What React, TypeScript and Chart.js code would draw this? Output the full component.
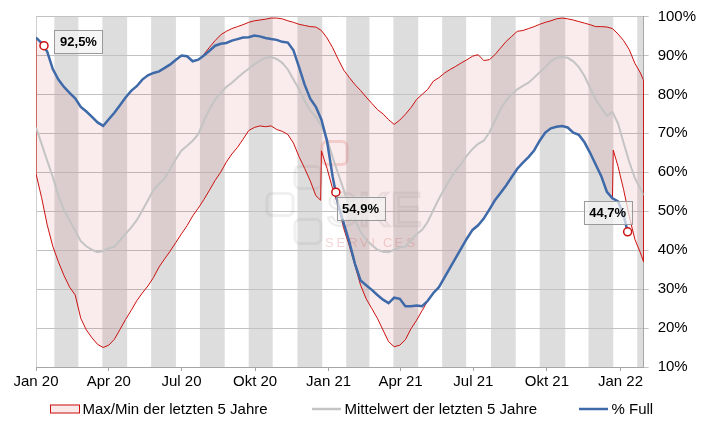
import React, { useEffect, useRef } from "react";
import { Chart, registerables } from "chart.js";

Chart.register(...registerables);

if (typeof document !== "undefined") {
  document.body.style.margin = "0";
  document.body.style.overflow = "hidden";
}

const W = 709;
const H = 421;
const FONT = "'Liberation Sans', Arial, sans-serif";

// x values are day offsets from 1 Jan 2020
const END_DAY = 760;
const weekDays = Array.from({ length: 109 }, (_, i) => i * 7);
const gridDays = [...weekDays, END_DAY];

const tickDays = [0, 91, 182, 274, 366, 456, 547, 639, 731];
const tickLabels = ["Jan 20", "Apr 20", "Jul 20", "Okt 20", "Jan 21", "Apr 21", "Jul 21", "Okt 21", "Jan 22"];

const stripeStarts = [23, 83, 144, 205, 266, 327, 388, 447, 508, 569, 630, 691, 752];
const stripeEnds = [53, 114, 175, 236, 296, 358, 417, 478, 538, 600, 662, 722, 783];

// % Full (weekly, k0..k105)
const fullValues = [
  94.6, 93.2, 91.0, 86.5, 83.8, 81.9, 80.4, 79.0, 76.8, 75.6,
  74.2, 72.8, 71.9, 73.6, 75.3, 77.2, 79.2, 80.9, 82.1, 83.8,
  84.9, 85.5, 85.9, 86.8, 87.7, 88.9, 90.0, 89.8, 88.5, 88.9,
  90.0, 91.2, 92.5, 93.0, 93.2, 93.8, 94.2, 94.6, 94.7, 95.1,
  94.9, 94.5, 94.2, 94.0, 93.5, 93.3, 91.3, 87.0, 82.5, 78.9,
  76.8, 73.5, 68.0, 58.9, 51.5, 46.9, 42.0, 36.5, 32.2, 31.0,
  29.8, 28.5, 27.3, 26.4, 27.8, 27.5, 25.6, 25.6, 25.8, 25.6,
  27.0, 29.0, 30.5, 33.0, 35.5, 38.0, 40.5, 43.0, 45.2, 46.4,
  48.1, 50.4, 52.8, 54.7, 56.6, 58.8, 60.9, 62.5, 63.9, 65.6,
  68.1, 70.2, 71.3, 71.7, 71.9, 71.5, 70.2, 69.6, 67.7, 65.0,
  62.0, 59.0, 55.0, 53.3, 52.5, 49.0,
];

// 5-year max (weekly + end)
const maxValues = [
  94.6, 93.2, 91.0, 86.5, 83.8, 81.9, 80.4, 79.0, 76.8, 75.6,
  74.2, 72.8, 71.9, 73.6, 75.3, 77.2, 79.2, 80.9, 82.1, 83.8,
  84.9, 85.5, 85.9, 86.8, 87.7, 88.9, 90.0, 89.8, 88.5, 88.9,
  90.3, 92.1, 93.8, 95.3, 96.2, 96.9, 97.4, 97.9, 98.5, 98.9,
  99.1, 99.3, 99.6, 99.6, 99.4, 98.9, 98.5, 98.0, 97.7, 97.4,
  97.3, 96.4, 94.5, 92.0, 89.0, 86.2, 84.3, 82.5, 81.0, 79.3,
  77.7, 76.1, 75.0, 73.5, 72.3, 73.4, 74.9, 76.6, 78.7, 80.0,
  81.3, 83.4, 84.3, 85.5, 86.4, 87.2, 88.1, 88.9, 89.8, 90.2,
  88.7, 88.9, 90.2, 91.9, 93.6, 94.9, 96.2, 96.4, 96.9, 97.4,
  98.0, 98.5, 98.9, 99.4, 99.6, 99.4, 99.1, 98.7, 98.3, 97.9,
  97.4, 97.4, 97.3, 96.9, 95.5, 93.8, 91.5, 88.0, 85.5,
  83.6,
];

// 5-year min (weekly + end)
const minValues = [
  59.6, 53.5, 46.5, 41.0, 37.0, 33.5, 30.5, 28.5, 22.5, 19.5,
  17.5, 15.8, 15.0, 15.6, 17.1, 19.6, 22.2, 24.5, 27.0, 29.0,
  30.8, 33.0, 35.7, 37.8, 39.8, 42.0, 44.2, 46.3, 48.8, 50.8,
  53.0, 55.4, 57.9, 60.0, 62.6, 64.7, 66.4, 68.5, 70.7, 71.5,
  71.9, 71.7, 71.9, 71.0, 70.5, 69.7, 67.5, 64.0, 61.0, 57.8,
  54.0, 65.5, 61.0, 55.8, 51.5, 45.5, 41.0, 36.0, 31.0, 27.5,
  25.0, 22.5, 19.5, 16.5, 15.2, 15.6, 17.0, 19.8, 22.0, 24.5,
  27.0, 29.0, 30.5, 33.0, 35.5, 38.0, 40.5, 43.0, 45.2, 46.4,
  48.1, 50.4, 52.8, 54.7, 56.6, 58.8, 60.9, 62.5, 63.9, 65.6,
  68.1, 70.2, 71.3, 71.7, 71.9, 71.5, 70.2, 69.6, 67.7, 65.0,
  62.0, 59.0, 55.0, 53.3, 61.5, 55.5, 48.7, 42.8, 39.3,
  37.0,
];
// extra min points at the year-change jumps
const minJumpDays = [356, 722];
const minJumpValues = [52.8, 65.7];

// 5-year mean (weekly + end)
const meanValues = [
  71.5, 67.3, 63.0, 58.8, 54.0, 50.2, 47.7, 45.0, 42.3, 41.0,
  40.1, 39.5, 39.8, 40.5, 40.9, 42.5, 44.2, 45.8, 47.7, 50.2,
  52.8, 55.5, 57.0, 58.5, 60.9, 63.4, 65.6, 66.8, 68.1, 69.8,
  73.2, 76.2, 78.7, 80.4, 81.9, 83.0, 84.3, 85.5, 86.6, 87.7,
  88.7, 89.4, 89.6, 89.1, 88.1, 86.4, 83.8, 81.3, 78.3, 75.8,
  74.2, 71.9, 68.5, 63.9, 59.6, 55.4, 51.1, 47.7, 44.7, 42.6,
  41.3, 40.1, 39.6, 39.5, 40.1, 40.7, 40.9, 42.6, 44.1, 45.2,
  47.3, 50.3, 53.2, 55.8, 58.3, 60.5, 62.2, 64.3, 66.0, 67.3,
  68.1, 70.2, 73.2, 76.2, 78.4, 80.0, 81.3, 82.2, 83.0, 84.3,
  85.7, 87.0, 88.5, 89.4, 89.6, 89.4, 88.5, 87.0, 84.7, 81.7,
  78.7, 76.6, 74.5, 75.5, 72.5, 67.5, 62.7, 58.5, 55.8,
  54.1,
];

const markerDays = [10, 375, 740];
const markerValues = [92.5, 54.9, 44.7];

const legendLabels = ["Max/Min der letzten 5 Jahre", "Mittelwert der letzten 5 Jahre", "% Full"];

// styles
const BLUE = "#3e6aa9";
const GRAY_LINE = "#c4c4c4";
const RED = "#cc1111";
const BAND = "rgba(205, 40, 40, 0.09)";
const STRIPE = "#dddddd";
const GRID = "#c2c2c2";
const AXIS = "#a6a6a6";
const labelOffsets = [
  [34.5, -4],
  [24.7, 16],
  [-20, -19],
];

const pts = (days: number[], vals: number[]) => vals.map((v, i) => ({ x: days[i], y: v }));

const fullData = [...pts(weekDays, fullValues), { x: markerDays[2], y: markerValues[2] }];
const meanData = pts(gridDays, meanValues);
const minData = [...pts(gridDays, minValues), ...pts(minJumpDays, minJumpValues)].sort((a, b) => a.x - b.x);
const maxData = [
  { x: 0, y: minValues[0] },
  ...pts(gridDays, maxValues),
  { x: END_DAY, y: minValues[minValues.length - 1] },
];
const markerData = pts(markerDays, markerValues);

const fmt = (v: number) => v.toFixed(1).replace(".", ",") + "%";

const stripesPlugin = {
  id: "stripes",
  beforeDraw(chart: any) {
    const { ctx, chartArea: a, scales } = chart;
    const x = scales.x;
    ctx.save();
    ctx.fillStyle = STRIPE;
    stripeStarts.forEach((s, i) => {
      const x0 = Math.max(a.left, x.getPixelForValue(s));
      const x1 = Math.min(a.right, x.getPixelForValue(stripeEnds[i]));
      if (x1 > x0) ctx.fillRect(x0, a.top, x1 - x0, a.bottom - a.top);
    });
    ctx.restore();
  },
};

function roundRect(ctx: CanvasRenderingContext2D, x: number, y: number, w: number, h: number, r: number) {
  ctx.beginPath();
  ctx.moveTo(x + r, y);
  ctx.arcTo(x + w, y, x + w, y + h, r);
  ctx.arcTo(x + w, y + h, x, y + h, r);
  ctx.arcTo(x, y + h, x, y, r);
  ctx.arcTo(x, y, x + w, y, r);
  ctx.closePath();
}

const framePlugin = {
  id: "frame",
  beforeDatasetsDraw(chart: any) {
    const { ctx, chartArea: a } = chart;
    ctx.save();
    // left frame line
    ctx.strokeStyle = "#d0d0d0";
    ctx.lineWidth = 1;
    ctx.beginPath();
    ctx.moveTo(a.left + 0.5, a.top);
    ctx.lineTo(a.left + 0.5, a.bottom);
    ctx.stroke();
    // faint watermark
    const cx = a.left + 231;
    const cy = a.top + 125;
    ctx.lineWidth = 3;
    ctx.strokeStyle = "rgba(150,150,150,0.14)";
    roundRect(ctx, cx + 28, cy + 25, 26, 22, 5);
    ctx.stroke();
    roundRect(ctx, cx, cy + 52, 26, 22, 5);
    ctx.stroke();
    roundRect(ctx, cx + 28, cy + 78, 26, 24, 5);
    ctx.stroke();
    ctx.strokeStyle = "rgba(215,80,80,0.2)";
    roundRect(ctx, cx + 55, cy, 25, 23, 5);
    ctx.stroke();
    ctx.strokeStyle = "rgba(150,150,150,0.16)";
    ctx.lineWidth = 2.5;
    ctx.font = `48px ${FONT}`;
    ctx.textBaseline = "alphabetic";
    ctx.strokeText("SKE", cx + 59, cy + 84);
    ctx.fillStyle = "rgba(210,90,90,0.25)";
    ctx.font = `13px ${FONT}`;
    "SERVICES".split("").forEach((c, i) => ctx.fillText(c, cx + 58 + i * 11.6, cy + 105));
    ctx.restore();
  },
};

const labelPlugin = {
  id: "valueLabels",
  afterDatasetsDraw(chart: any) {
    const { ctx, scales } = chart;
    ctx.save();
    ctx.font = `bold 13px ${FONT}`;
    ctx.textAlign = "center";
    ctx.textBaseline = "middle";
    markerDays.forEach((d, i) => {
      const px = scales.x.getPixelForValue(d);
      const py = scales.y.getPixelForValue(markerValues[i]);
      const cx = px + labelOffsets[i][0];
      const cy = py + labelOffsets[i][1];
      const bw = 48;
      const bh = 23;
      ctx.fillStyle = "rgba(242,242,242,0.72)";
      ctx.fillRect(cx - bw / 2, cy - bh / 2, bw, bh);
      ctx.strokeStyle = "#9a9a9a";
      ctx.lineWidth = 1;
      ctx.strokeRect(Math.round(cx - bw / 2) + 0.5, Math.round(cy - bh / 2) + 0.5, bw, bh);
      ctx.fillStyle = "#000";
      ctx.fillText(fmt(markerValues[i]), cx, cy + 1);
    });
    ctx.restore();
  },
};

const legendPlugin = {
  id: "customLegend",
  afterDraw(chart: any) {
    const { ctx } = chart;
    const iconX = [50, 312, 579];
    const iconW = 29;
    const cy = 409;
    ctx.save();
    // band icon
    ctx.fillStyle = "rgba(205, 40, 40, 0.1)";
    ctx.fillRect(iconX[0], cy - 4.5, iconW, 9);
    ctx.strokeStyle = RED;
    ctx.lineWidth = 1;
    ctx.strokeRect(iconX[0] + 0.5, cy - 4, iconW, 8);
    // mean line icon
    ctx.strokeStyle = GRAY_LINE;
    ctx.lineWidth = 2.5;
    ctx.beginPath();
    ctx.moveTo(iconX[1], cy);
    ctx.lineTo(iconX[1] + iconW, cy);
    ctx.stroke();
    // full line icon
    ctx.strokeStyle = BLUE;
    ctx.lineWidth = 2.5;
    ctx.beginPath();
    ctx.moveTo(iconX[2], cy);
    ctx.lineTo(iconX[2] + iconW, cy);
    ctx.stroke();
    ctx.fillStyle = "#000";
    ctx.font = `15px ${FONT}`;
    ctx.textBaseline = "alphabetic";
    ctx.textAlign = "left";
    legendLabels.forEach((t, i) => ctx.fillText(t, iconX[i] + iconW + 3.5, 413.5));
    ctx.restore();
  },
};

export default function App() {
  const ref = useRef<HTMLCanvasElement>(null);
  useEffect(() => {
    const chart = new Chart(ref.current as HTMLCanvasElement, {
      type: "line",
      data: {
        datasets: [
          {
            label: "markers",
            data: markerData,
            showLine: false,
            pointRadius: 4,
            pointBackgroundColor: "#ffffff",
            pointBorderColor: RED,
            pointBorderWidth: 1.5,
            order: 0,
          },
          {
            label: legendLabels[2],
            data: fullData,
            borderColor: BLUE,
            borderWidth: 2.5,
            pointRadius: 0,
            tension: 0,
            order: 1,
          },
          {
            label: legendLabels[1],
            data: meanData,
            borderColor: GRAY_LINE,
            borderWidth: 2,
            pointRadius: 0,
            order: 2,
          },
          {
            label: legendLabels[0],
            data: maxData,
            borderColor: RED,
            borderWidth: 1,
            backgroundColor: BAND,
            fill: "+1",
            pointRadius: 0,
            order: 3,
          },
          {
            label: "min",
            data: minData,
            borderColor: RED,
            borderWidth: 1,
            pointRadius: 0,
            fill: false,
            order: 4,
          },
        ],
      },
      options: {
        responsive: false,
        animation: false,
        events: [],
        layout: { padding: { left: 36, right: 4, top: 15, bottom: 28 } },
        plugins: { legend: { display: false }, tooltip: { enabled: false } },
        scales: {
          x: {
            type: "linear",
            min: 0,
            max: END_DAY,
            afterBuildTicks: (scale: any) => {
              scale.ticks = tickDays.map((v) => ({ value: v }));
            },
            ticks: {
              autoSkip: false,
              maxRotation: 0,
              color: "#000",
              padding: 2,
              font: { family: FONT, size: 15 },
              callback: (v: any) => tickLabels[tickDays.indexOf(Number(v))] ?? "",
            },
            grid: { display: true, drawOnChartArea: false, tickLength: 4, color: AXIS },
            border: { display: true, color: AXIS },
          },
          y: {
            position: "right",
            min: 10,
            max: 100,
            ticks: {
              stepSize: 10,
              color: "#000",
              padding: 9,
              font: { family: FONT, size: 15, lineHeight: 1 },
              callback: (v: any) => `${v}%`,
            },
            grid: { color: GRID, tickLength: 5 },
            border: { display: true, color: AXIS },
          },
        },
      },
      plugins: [stripesPlugin, framePlugin, labelPlugin, legendPlugin],
    } as any);
    return () => chart.destroy();
  }, []);
  return (
    <div style={{ width: W, height: H }}>
      <canvas ref={ref} width={W} height={H} style={{ display: "block" }} />
    </div>
  );
}
